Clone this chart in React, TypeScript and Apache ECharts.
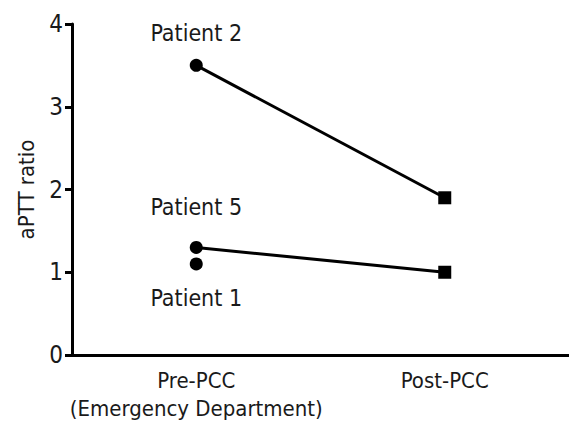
import React, { useEffect, useRef } from "react";
import * as echarts from "echarts";

const categories = ["Pre-PCC\n(Emergency Department)", "Post-PCC"];
const patient2 = [3.5, 1.9];
const patient5 = [1.3, 1.0];
const patient1 = [1.1];
const yTicks = [0, 1, 2, 3, 4];
const patientLabels = ["Patient 2", "Patient 5", "Patient 1"];

const FONT = "'Liberation Sans Narrow', 'DejaVu Sans Condensed', 'Roboto Condensed', sans-serif";
const TEXT = "#1a1a1a";

export default function App() {
  const ref = useRef<HTMLDivElement>(null);
  useEffect(() => {
    if (!ref.current) return;
    const chart = echarts.init(ref.current, undefined, { renderer: "svg" });
    const mk = (name: string, data: number[], labelText: string, labelPos: string, dist: number) => ({
      name,
      type: "line",
      data: data.map((v, i) => ({
        value: v,
        symbol: i === 0 ? "circle" : "rect",
        symbolSize: 13,
        label:
          i === 0
            ? {
                show: true,
                formatter: labelText,
                position: labelPos,
                distance: dist,
                color: TEXT,
                fontSize: 23,
                fontFamily: FONT,
              }
            : { show: false },
      })),
      lineStyle: { color: "#000", width: 3 },
      itemStyle: { color: "#000" },
      emphasis: { disabled: true },
    });
    chart.setOption({
      animation: false,
      textStyle: { fontFamily: FONT },
      grid: { left: 72, right: 0, top: 24, bottom: 71, containLabel: false },
      xAxis: {
        type: "category",
        data: categories,
        boundaryGap: true,
        axisLine: { lineStyle: { color: "#000", width: 3 } },
        axisTick: { alignWithLabel: true, length: 6, lineStyle: { color: "#000", width: 3 } },
        axisLabel: { color: TEXT, fontSize: 22, fontFamily: FONT, margin: 11, lineHeight: 28, interval: 0 },
      },
      yAxis: {
        type: "value",
        min: yTicks[0],
        max: yTicks[yTicks.length - 1],
        interval: 1,
        name: "aPTT ratio",
        nameLocation: "middle",
        nameRotate: 90,
        nameGap: 35,
        nameTextStyle: { color: TEXT, fontSize: 22, fontFamily: FONT },
        splitLine: { show: false },
        axisLine: { show: true, lineStyle: { color: "#000", width: 3 } },
        axisTick: { show: true, length: 7, lineStyle: { color: "#000", width: 3 } },
        axisLabel: { color: TEXT, fontSize: 24, fontFamily: FONT, margin: 9 },
      },
      series: [
        mk("Patient 2", patient2, patientLabels[0], "top", 14),
        mk("Patient 5", patient5, patientLabels[1], "top", 22),
        mk("Patient 1", patient1, patientLabels[2], "bottom", 16),
      ],
    });
    return () => chart.dispose();
  }, []);
  return <div ref={ref} style={{ position: "absolute", left: 0, top: 0, width: 569, height: 426 }} />;
}
